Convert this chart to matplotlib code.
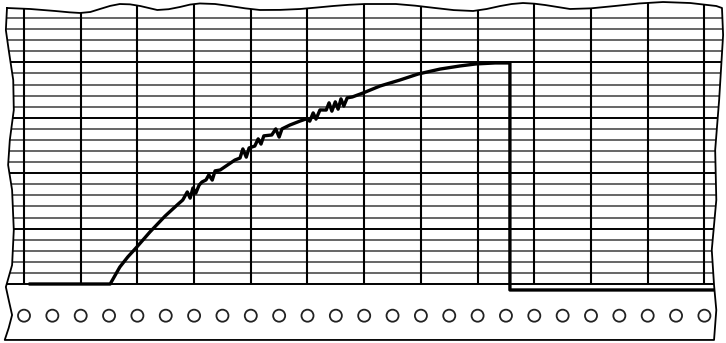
import matplotlib
matplotlib.use('Agg')
import matplotlib.pyplot as plt
from matplotlib.patches import Polygon
import numpy as np

# chart paper grid (in chart divisions)
col_lines = list(range(0, 13))
row_lines = list(range(0, 25))
major_rows = [0, 5, 10, 15, 20]

trace_x = [0.11, 1.52, 1.59, 1.69, 1.83, 1.99, 2.22, 2.49, 2.72,
           2.80, 2.88, 2.93, 2.98, 3.03, 3.09, 3.14, 3.21, 3.26, 3.32, 3.37, 3.46,
           3.72, 3.81, 3.86, 3.92, 3.97, 4.07, 4.13, 4.18, 4.23,
           4.37, 4.44, 4.50, 4.55, 4.69, 4.87, 4.97,
           5.04, 5.10, 5.15, 5.22, 5.33, 5.38, 5.43, 5.49, 5.54, 5.59, 5.64, 5.70, 5.79,
           5.98, 6.28, 6.63, 6.95, 7.34, 7.69, 7.97, 8.31, 8.57, 8.57, 12.15]
trace_y = [0.0, 0.0, 0.63, 1.53, 2.44, 3.34, 4.69, 6.14, 7.22,
           7.58, 8.31, 7.75, 8.67, 8.20, 8.94, 9.21, 9.39, 9.85, 9.38, 10.21, 10.29,
           11.19, 11.37, 12.19, 11.45, 12.28, 12.45, 13.10, 12.63, 13.37,
           13.45, 14.00, 13.26, 14.00, 14.35, 14.71, 14.89,
           14.70, 15.44, 14.88, 15.71, 15.70, 16.35, 15.60, 16.44, 15.78, 16.71, 16.06, 16.80, 16.88,
           17.24, 17.87, 18.41, 18.95, 19.40, 19.68, 19.86, 19.95, 19.95, -0.54, -0.54]

# sprocket holes along the bottom margin
hole_x = np.arange(0, 12.5, 0.5)
hole_y = -2.86

# torn paper outline: top, right, bottom, left
top_x = [-0.30, 0.11, 0.55, 0.80, 0.99, 1.17, 1.34, 1.52, 1.69, 1.87, 2.05, 2.35, 2.55, 2.75, 2.93,
         3.10, 3.37, 3.63, 3.90, 4.16, 4.52, 4.87, 5.16, 5.45, 5.73, 6.01, 6.56, 6.90, 7.25, 7.58,
         7.92, 8.16, 8.40, 8.60, 8.80, 9.00, 9.19, 9.63, 10.00, 10.42, 10.85, 11.27, 11.75, 12.21, 12.31]
top_y = [24.91, 24.82, 24.64, 24.52, 24.46, 24.55, 24.82, 25.10, 25.27, 25.24, 25.09, 24.73, 24.80,
         25.00, 25.22, 25.32, 25.27, 25.09, 24.88, 24.73, 24.74, 24.82, 24.95, 25.09, 25.20, 25.27,
         25.27, 25.12, 24.91, 24.72, 24.64, 24.82, 25.09, 25.27, 25.36, 25.30, 25.18, 24.82, 24.88,
         25.09, 25.32, 25.45, 25.36, 25.09, 24.91]
right_x = [12.33, 12.26, 12.19, 12.21, 12.13, 12.17, 12.21, 12.17]
right_y = [22.47, 16.61, 12.09, 7.58, 3.07, -0.09, -2.35, -5.05]
left_x = [-0.34, -0.27, -0.21, -0.27, -0.32, -0.21, -0.18, -0.21, -0.28, -0.25, -0.18, -0.19, -0.27, -0.32, -0.30]
left_y = [-5.05, -3.97, -2.80, -1.44, -0.27, 1.71, 4.87, 8.48, 10.74, 13.00, 15.70, 18.41, 21.12, 22.92, 24.91]

edge_x = top_x + right_x + left_x
edge_y = top_y + right_y + left_y

fig = plt.figure(figsize=(7.26, 3.43), dpi=100)
ax = fig.add_axes([0, 0, 1, 1])
ax.set_xlim(-0.4233, 12.381)
ax.set_ylim(-5.325, 25.632)
ax.axis('off')

paper = Polygon(np.column_stack([edge_x, edge_y]), closed=True, facecolor='white', edgecolor='none', zorder=0)
ax.add_patch(paper)

# grid
minor_rows = [r for r in row_lines if r not in major_rows]
h1 = ax.hlines(minor_rows, -1, 13, colors='#3c3c3c', lw=1.1, zorder=1)
h2 = ax.hlines(major_rows, -1, 13, colors='black', lw=1.4, zorder=1)
v = ax.vlines(col_lines, 0, 27, colors='black', lw=1.5, zorder=2)
for coll in (h1, h2, v):
    coll.set_clip_path(paper)

# trace
ax.plot(trace_x, trace_y, color='black', lw=2.4, zorder=4)

# holes
ax.scatter(hole_x, [hole_y] * len(hole_x), s=75, facecolors='none', edgecolors='#222222', linewidths=1.3, zorder=3)

# outline
ax.plot(edge_x + edge_x[:1], edge_y + edge_y[:1], color='black', lw=1.3, zorder=5)

plt.savefig('out.png', dpi=100)
